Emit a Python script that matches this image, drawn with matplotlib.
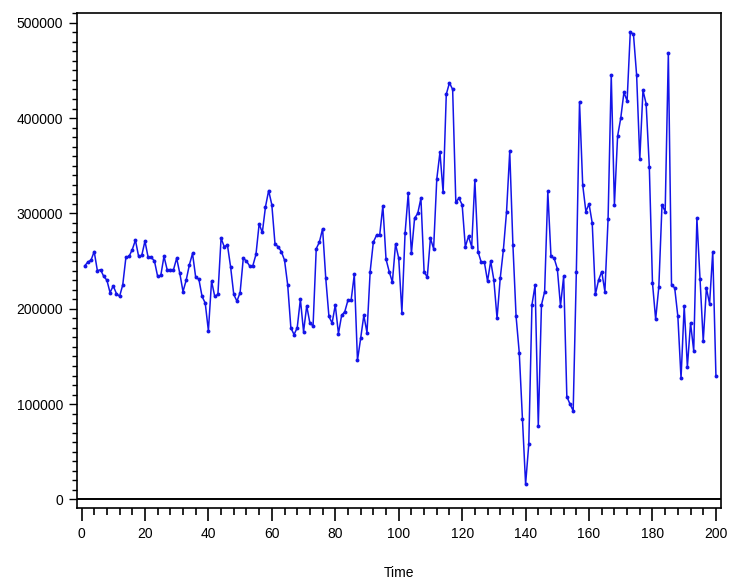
import matplotlib
matplotlib.use("Agg")
import matplotlib.pyplot as plt
from matplotlib.ticker import MultipleLocator
import numpy as np

time = list(range(1, 201))
values_k = [
    # 1-10
    245, 249, 251, 260, 240, 241, 234, 230, 217, 224,
    # 11-20
    216, 213, 225, 254, 255, 262, 272, 255, 256, 271,
    # 21-30
    254, 254, 250, 234, 235, 255, 241, 241, 241, 253,
    # 31-40
    237, 218, 230, 246, 258, 233, 231, 213, 206, 177,
    # 41-50
    229, 213, 215, 274, 265, 267, 244, 215, 208, 217,
    # 51-60
    253, 250, 245, 245, 257, 289, 280, 307, 324, 309,
    # 61-70
    268, 265, 260, 251, 225, 180, 173, 180, 210, 176,
    # 71-80
    203, 185, 182, 263, 270, 284, 232, 192, 185, 204,
    # 81-90
    174, 193, 197, 209, 209, 236, 146, 169, 193, 175,
    # 91-100
    239, 270, 277, 277, 308, 252, 239, 228, 268, 253,
    # 101-110
    196, 279, 321, 258, 295, 300, 316, 239, 233, 274,
    # 111-120
    263, 336, 364, 322, 425, 437, 430, 312, 316, 309,
    # 121-130
    265, 276, 265, 335, 260, 249, 249, 229, 250, 230,
    # 131-140
    190, 232, 262, 302, 365, 267, 192, 154, 84, 16,
    # 141-150
    58, 204, 225, 77, 204, 218, 323, 255, 253, 242,
    # 151-160
    203, 234, 108, 100, 93, 239, 417, 330, 302, 310,
    # 161-170
    290, 215, 230, 239, 218, 294, 445, 309, 381, 400,
    # 171-180
    427, 418, 490, 488, 445, 357, 429, 415, 349, 227,
    # 181-190
    189, 223, 309, 302, 468, 225, 222, 192, 127, 203,
    # 191-200
    139, 185, 156, 295, 231, 166, 222, 205, 260, 130,
]
values = [v * 1000 for v in values_k]

x_ticks = [0, 20, 40, 60, 80, 100, 120, 140, 160, 180, 200]
y_ticks = [0, 100000, 200000, 300000, 400000, 500000]

FONT = ['Liberation Sans Narrow', 'Liberation Sans', 'DejaVu Sans']
plt.rcParams['font.family'] = FONT

fig = plt.figure(figsize=(7.52, 5.82), dpi=100)
W, H = 752, 582
left, right, top, bottom = 77, 721, 12.7, 507.5
ax = fig.add_axes([left / W, 1 - bottom / H, (right - left) / W, (bottom - top) / H])

ax.plot(time, values, color='#1414e8', linewidth=1.1, marker='o',
        markersize=2.8, markeredgewidth=0, zorder=3)
ax.axhline(0, color='black', linewidth=1.4, zorder=2)

ax.set_xlim(-1.42, 201.6)
ax.set_ylim(-8400, 510500)

ax.set_xticks(x_ticks)
ax.set_xticklabels([str(t) for t in x_ticks])
ax.set_yticks(y_ticks)
ax.set_yticklabels([str(t) for t in y_ticks])
ax.xaxis.set_minor_locator(MultipleLocator(4))
ax.yaxis.set_minor_locator(MultipleLocator(10000))

ax.tick_params(axis='x', which='major', length=9, width=1.2, direction='out',
               labelsize=10, pad=5)
ax.tick_params(axis='x', which='minor', length=5, width=1.2, direction='out')
ax.tick_params(axis='y', which='major', length=6, width=1.0, direction='out',
               labelsize=10, pad=4)
ax.tick_params(axis='y', which='minor', length=3.5, width=1.0, direction='out')

for s in ax.spines.values():
    s.set_linewidth(1.2)
    s.set_color('black')

ax.set_xlabel('Time', fontsize=10, labelpad=18)

fig.savefig('out.png', dpi=100)
